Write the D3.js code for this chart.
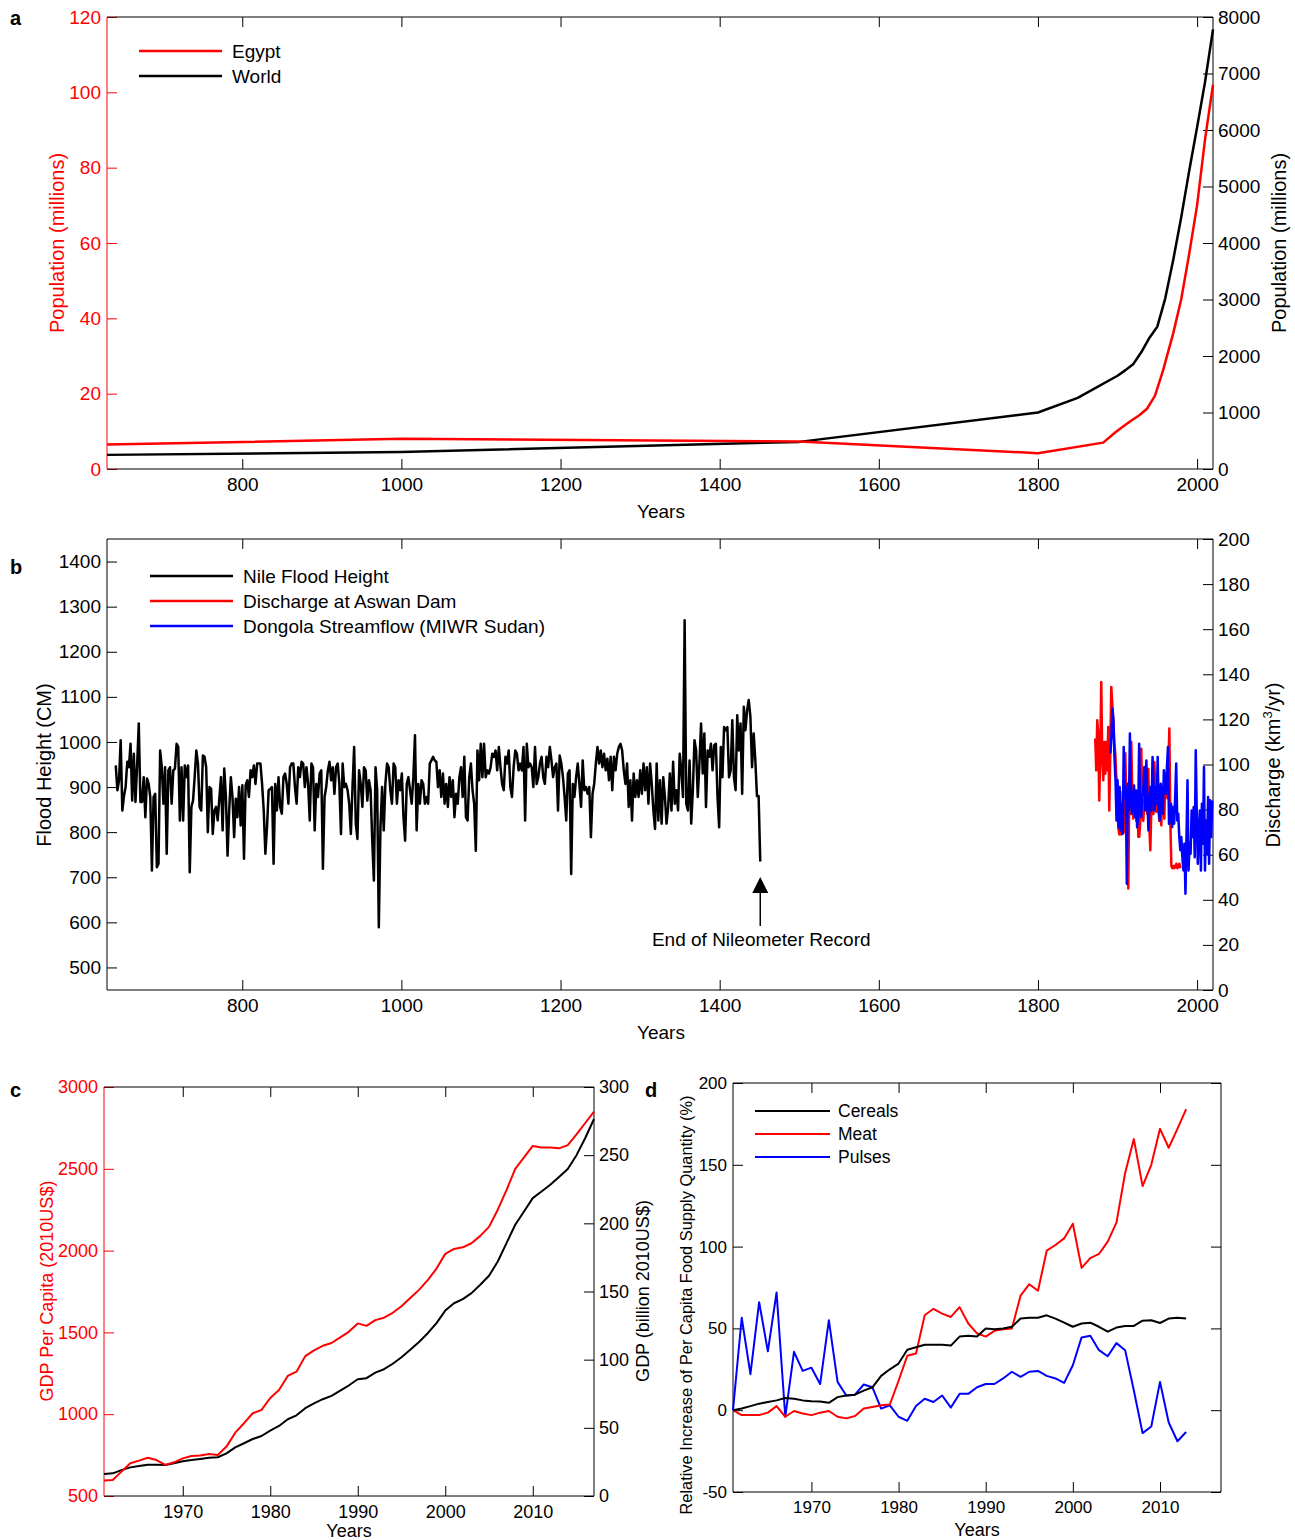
<!DOCTYPE html>
<html><head><meta charset="utf-8">
<script src="https://cdn.jsdelivr.net/npm/d3@7"></script>
<style>body{margin:0;background:#fff}</style>
</head><body>
<svg id="chart" width="1295" height="1540" xmlns="http://www.w3.org/2000/svg"></svg>
<script>
// ---------------- DATA ----------------
// Panel a: population (millions)
const egyptYears = [630,1000,1500,1800,1882,1897,1907,1917,1927,1937,1947,1957,1960,1970,1980,1990,2000,2010,2020];
const egyptPop   = [6.5,8,7.3,4.2,7,9.7,11.3,12.8,14.2,16,19.4,26,28.3,36,45,57,70,87.5,102];
const worldYears = [630,1000,1500,1800,1850,1900,1910,1920,1930,1940,1950,1960,1970,1980,1990,2000,2010,2020];
const worldPop   = [250,300,480,1000,1260,1650,1750,1860,2070,2320,2520,3020,3700,4450,5270,6050,6850,7780];

// Panel b: Nile flood height (cm), evenly spaced readings from floodStart to floodEnd
const floodStart = 641, floodEnd = 1451;
const floodHeight = [
948,893,915,1004,848,880,900,956,944,996,870,974,867,948,1041,867,867,922,833,919,907,878,715,878,885,722,730,981,944,863,944,752,937,944,863,937,941,996,989,826,944,826,948,922,948,711,856,870,922,981,952,856,848,970,967,944,800,900,896,796,848,856,826,874,922,804,941,878,748,848,922,878,789,874,833,900,815,904,741,904,915,878,937,922,948,907,952,952,952,907,848,752,811,893,896,
900,730,907,848,922,856,841,922,930,907,863,944,952,952,900,863,944,922,956,952,900,944,907,826,952,944,804,907,878,930,937,719,878,900,937,956,915,944,885,944,952,907,796,952,900,907,893,863,796,900,989,819,785,937,907,856,944,937,870,915,893,781,693,944,893,589,811,900,804,907,952,944,893,863,952,944,863,915,893,930,833,781,907,922,893,863,922,1015,804,907,863,915,907,863,878,863,952,959,967,959,
956,900,937,878,930,863,907,856,922,878,915,833,885,863,922,944,878,967,833,826,922,952,893,863,759,981,915,996,922,996,922,937,930,944,974,967,981,937,989,944,907,893,967,952,981,900,878,944,981,974,937,952,937,989,826,996,944,952,944,900,989,907,922,952,967,922,907,967,944,989,959,922,944,952,848,970,952,922,878,826,930,937,707,907,878,922,952,907,856,959,893,900,885,900,789,885,907,952,989,952,
981,944,974,937,963,915,967,893,967,937,974,989,996,981,937,907,952,856,915,826,930,878,915,878,937,885,952,893,944,863,952,907,848,807,952,826,915,819,922,878,819,856,930,848,956,863,893,848,974,937,878,1270,863,848,959,819,893,1004,981,878,952,1041,930,1019,856,981,967,996,937,993,996,878,811,989,922,1033,1026,1033,922,937,1048,922,893,1059,981,1041,885,1078,1026,1070,1093,1056,944,1019,959,880,880,735
];

// Discharge at Aswan Dam (km3/yr), evenly spaced readings
const aswanStart = 1872, aswanEnd = 1979;
const aswanDischarge = [
111.5,97.4,119.6,113.7,84,104.8,136.6,103.3,93,110,
95.9,110,97.4,116.6,79.6,104.8,134.4,127,119.6,110,
104.8,95,90,72,69,88,69,82,78,70,
105,84,88,45,88,78,110,86,76,84,
88,75,86,68,68,75,107,78,75,84,
86,97,78,98,72,62,80,88,78,101,
90,79,88,82,75,78,73,90,84,76,
96,88,85,100,116,74,55,54,55,54,
55,56,54,55,56,54];

// Dongola streamflow (km3/yr), evenly spaced readings
const dongolaStart = 1891, dongolaEnd = 2019;
const dongolaFlow = [
104.8,112,124.8,119.6,103.3,93,75.2,93,72.2,90,70.8,82.6,69.3,107.8,85.6,90,47.1,91.5,79.6,113.7,
87,78.2,85.6,90.7,76.7,88.5,72.2,76.7,109.2,79.6,76.7,85.6,88.5,98.9,79.6,101.8,85.6,70.8,82.6,90,
79.6,103.3,91.5,79.6,90,82.6,103.3,79.6,75.2,91.5,85.6,78.2,97.4,90,87,98.9,107.8,73.7,76.7,82.6,
72.2,81.1,73.7,85.6,100.4,75.2,78.2,67.8,62,67.8,58.9,53,64.9,42.7,67.8,93,53,64.9,60.4,79.6,
67.8,81.1,58.9,106.3,78.2,56,70.8,79.6,53,82.6,64.9,98.9,53,75.2,60.4,85.6,56,84.1,67.8,84.1];

// Panel c: GDP
const gdpYears = [1961,1962,1963,1964,1965,1966,1967,1968,1969,1970,1971,1972,1973,1974,1975,1976,1977,1978,1979,1980,1981,1982,1983,1984,1985,1986,1987,1988,1989,1990,1991,1992,1993,1994,1995,1996,1997,1998,1999,2000,2001,2002,2003,2004,2005,2006,2007,2008,2009,2010,2011,2012,2013,2014,2015,2016,2017];
const gdpPerCapita = [594,598,649,700,716,734,720,690,706,730,745,747,757,751,802,887,945,1006,1026,1099,1148,1234,1260,1355,1390,1418,1435,1470,1505,1555,1540,1575,1590,1620,1660,1710,1760,1820,1890,1980,2010,2020,2045,2090,2145,2250,2370,2500,2570,2640,2630,2630,2625,2645,2710,2780,2850];
const gdpTotal = [16.2,16.6,19,21,22,23,23,22.8,24,25.5,26.4,27.2,28.1,28.4,31.3,35.7,38.7,41.8,44,48,51.4,56.3,59.2,64.4,68,71,73.4,77.3,81.2,85.6,86.4,90.5,93,97,101.8,107.2,113,119.4,126.8,136,141.4,144.4,148.8,154.9,161.5,172,185.5,199,208.7,218.5,223.4,228.3,234,239.8,250,262.6,276.5];

// Panel d: relative increase of per capita food supply (%)
const foodYears = [1961,1962,1963,1964,1965,1966,1967,1968,1969,1970,1971,1972,1973,1974,1975,1976,1977,1978,1979,1980,1981,1982,1983,1984,1985,1986,1987,1988,1989,1990,1991,1992,1993,1994,1995,1996,1997,1998,1999,2000,2001,2002,2003,2004,2005,2006,2007,2008,2009,2010,2011,2012,2013];
const cereals = [0,1,2.5,4,5,6,7.5,7,6,5.5,5.3,4.5,8,9,9.5,12,14,21,25,28.5,37,38.5,40,40,40,39.5,45,45.5,45,50,49.5,50,51,56,56.5,56.5,58,56,53.5,51,53,53.5,51,48,50.5,51.5,51.5,54.7,55,53.3,56,56.5,56];
const meat = [0,-3,-3,-3,-1.5,2.5,-4,-0.5,-2,-3,-1.5,-0.5,-4,-5,-3.5,1,2,3,3.5,18,33.3,34.7,58,62,59,57,63,53,47,45,48.5,49.5,50,70,77,73,97.5,101,105,114,87,93,95.5,103,114.7,145,165.7,137,150,172,160.4,172,184];
const pulses = [0,56.5,22,66,36,72,-4,35.7,24,26,16,55,17.3,9,9.5,15.7,14,1,3,-4,-6.5,2.5,7,5,9,1.6,10,10,14,16,16,19.4,23.5,20.4,23.5,24,21,19.4,16.7,27.5,44.5,45.5,36.7,33,41,36.7,12,-14,-10,17.3,-7.5,-19,-13.3];

// tick values
const ticksXab = [800,1000,1200,1400,1600,1800,2000];
const ticksPopL = [0,20,40,60,80,100,120];
const ticksPopR = [0,1000,2000,3000,4000,5000,6000,7000,8000];
const ticksFlood = [500,600,700,800,900,1000,1100,1200,1300,1400];
const ticksDis = [0,20,40,60,80,100,120,140,160,180,200];
const ticksXcd = [1970,1980,1990,2000,2010];
const ticksGdpPC = [500,1000,1500,2000,2500,3000];
const ticksGdp = [0,50,100,150,200,250,300];
const ticksFood = [-50,0,50,100,150,200];

// ---------------- DRAWING ----------------
const FONT = "'Liberation Sans', Arial, Helvetica, sans-serif";
const RED = "#ff0000", BLUE = "#0000ff", BLACK = "#000000";
const svg = d3.select("#chart");
const fmt = d => String(d);

function clean(sel, color){
  sel.select(".domain").remove();
  sel.selectAll(".tick line").attr("stroke", color).attr("stroke-width", 1);
  sel.selectAll(".tick text").attr("fill", color);
  sel.attr("font-family", FONT);
}

function frame(o){
  const g = svg.append("g");
  const [x0, x1] = o.x.range();
  const y1 = o.yL.range()[0], y0 = o.yL.range()[1];
  const fs = o.fs;
  g.append("g").attr("transform", `translate(0,${y1})`)
    .call(d3.axisBottom(o.x).tickValues(o.xTicks).tickSize(-10).tickPadding(9).tickFormat(fmt))
    .attr("font-size", fs).call(clean, BLACK);
  g.append("g").attr("transform", `translate(0,${y0})`)
    .call(d3.axisTop(o.x).tickValues(o.xTicks).tickSize(-10).tickFormat(""))
    .call(clean, BLACK);
  g.append("g").attr("transform", `translate(${x0},0)`)
    .call(d3.axisLeft(o.yL).tickValues(o.yLTicks).tickSize(-10).tickPadding(6).tickFormat(fmt))
    .attr("font-size", fs).call(clean, o.leftColor);
  const yR = o.yR || o.yL;
  const ra = d3.axisRight(yR).tickValues(o.yRTicks || o.yLTicks).tickSize(-10).tickPadding(5).tickFormat(o.yR ? fmt : () => "");
  g.append("g").attr("transform", `translate(${x1},0)`).call(ra).attr("font-size", fs).call(clean, BLACK);
  // box
  g.append("line").attr("x1", x0).attr("x2", x1).attr("y1", y0).attr("y2", y0).attr("stroke", BLACK);
  g.append("line").attr("x1", x0).attr("x2", x1).attr("y1", y1).attr("y2", y1).attr("stroke", BLACK);
  g.append("line").attr("x1", x1).attr("x2", x1).attr("y1", y0).attr("y2", y1).attr("stroke", BLACK);
  g.append("line").attr("x1", x0).attr("x2", x0).attr("y1", y0).attr("y2", y1).attr("stroke", o.leftColor);
  return g;
}

function text(x, y, s, opt = {}){
  const t = svg.append("text").attr("x", x).attr("y", y).text(s)
    .attr("font-family", FONT).attr("font-size", opt.fs || 19)
    .attr("fill", opt.color || BLACK)
    .attr("text-anchor", opt.anchor || "start");
  if (opt.bold) t.attr("font-weight", "bold");
  return t;
}
function vtext(cx, cy, s, opt = {}){
  return svg.append("text").attr("transform", `translate(${cx},${cy}) rotate(-90)`)
    .attr("dy", "0.35em").attr("text-anchor", "middle")
    .attr("font-family", FONT).attr("font-size", opt.fs || 20)
    .attr("fill", opt.color || BLACK).text(s);
}
function path(data, xs, ys, color, w){
  const line = d3.line().x(d => xs(d[0])).y(d => ys(d[1]));
  svg.append("path").datum(data).attr("d", line).attr("fill", "none")
    .attr("stroke", color).attr("stroke-width", w).attr("stroke-linejoin", "round");
}
function even(start, end, vals){
  const n = vals.length;
  return vals.map((v, i) => [start + i * (end - start) / (n - 1), v]);
}

// ---- Panel a ----
const xA = d3.scaleLinear().domain([630, 2020]).range([107, 1213]);
const yAL = d3.scaleLinear().domain([0, 120]).range([469, 17]);
const yAR = d3.scaleLinear().domain([0, 8000]).range([469, 17]);
frame({x: xA, yL: yAL, yR: yAR, xTicks: ticksXab, yLTicks: ticksPopL, yRTicks: ticksPopR, leftColor: RED, fs: 19});
path(worldYears.map((y, i) => [y, worldPop[i]]), xA, yAR, BLACK, 2.5);
path(egyptYears.map((y, i) => [y, egyptPop[i]]), xA, yAL, RED, 2.5);
text(10, 25, "a", {fs: 20, bold: true});
vtext(57, 243, "Population (millions)", {color: RED});
vtext(1279, 243, "Population (millions)");
text(661, 518, "Years", {anchor: "middle"});
[[RED, "Egypt", 51], [BLACK, "World", 76]].forEach(([c, s, y]) => {
  svg.append("line").attr("x1", 139).attr("x2", 222).attr("y1", y).attr("y2", y).attr("stroke", c).attr("stroke-width", 2.5);
  text(232, y + 7, s);
});

// ---- Panel b ----
const xB = d3.scaleLinear().domain([630, 2020]).range([107, 1213]);
const yBL = d3.scaleLinear().domain([450, 1450]).range([990, 539]);
const yBR = d3.scaleLinear().domain([0, 200]).range([990, 539]);
frame({x: xB, yL: yBL, yR: yBR, xTicks: ticksXab, yLTicks: ticksFlood, yRTicks: ticksDis, leftColor: BLACK, fs: 19});
path(even(floodStart, floodEnd, floodHeight), xB, yBL, BLACK, 2.5);
path(even(aswanStart, aswanEnd, aswanDischarge), xB, yBR, RED, 2.5);
path(even(dongolaStart, dongolaEnd, dongolaFlow), xB, yBR, BLUE, 2.5);
text(10, 574, "b", {fs: 20, bold: true});
vtext(44, 765, "Flood Height (CM)");
const dl = svg.append("text").attr("transform", "translate(1273,765) rotate(-90)")
  .attr("dy", "0.35em").attr("text-anchor", "middle").attr("font-family", FONT).attr("font-size", 20);
dl.append("tspan").text("Discharge (km");
dl.append("tspan").text("3").attr("font-size", 13).attr("dy", "-0.6em");
dl.append("tspan").text("/yr)").attr("dy", "0.4em");
text(661, 1039, "Years", {anchor: "middle"});
[[BLACK, "Nile Flood Height", 576], [RED, "Discharge at Aswan Dam", 601], [BLUE, "Dongola Streamflow (MIWR Sudan)", 626]].forEach(([c, s, y]) => {
  svg.append("line").attr("x1", 150).attr("x2", 233).attr("y1", y).attr("y2", y).attr("stroke", c).attr("stroke-width", 2.5);
  text(243, y + 7, s);
});
// annotation
const ax = xB(floodEnd);
svg.append("line").attr("x1", ax).attr("x2", ax).attr("y1", 892).attr("y2", 926).attr("stroke", BLACK).attr("stroke-width", 1.5);
svg.append("path").attr("d", `M${ax},877 L${ax - 8},893 L${ax + 8},893 Z`).attr("fill", BLACK);
text(ax + 1, 946, "End of Nileometer Record", {anchor: "middle"});

// ---- Panel c ----
const xC = d3.scaleLinear().domain([1961, 2017]).range([104, 594]);
const yCL = d3.scaleLinear().domain([500, 3000]).range([1496, 1087]);
const yCR = d3.scaleLinear().domain([0, 300]).range([1496, 1087]);
frame({x: xC, yL: yCL, yR: yCR, xTicks: ticksXcd, yLTicks: ticksGdpPC, yRTicks: ticksGdp, leftColor: RED, fs: 18});
path(gdpYears.map((y, i) => [y, gdpTotal[i]]), xC, yCR, BLACK, 2);
path(gdpYears.map((y, i) => [y, gdpPerCapita[i]]), xC, yCL, RED, 2);
text(10, 1097, "c", {fs: 20, bold: true});
vtext(47, 1291, "GDP Per Capita (2010US$)", {color: RED, fs: 18});
vtext(643, 1291, "GDP (billion 2010US$)", {fs: 18});
text(349, 1537, "Years", {anchor: "middle", fs: 18});

// ---- Panel d ----
const xD = d3.scaleLinear().domain([1961, 2017]).range([733, 1221]);
const yD = d3.scaleLinear().domain([-50, 200]).range([1492, 1083]);
frame({x: xD, yL: yD, xTicks: ticksXcd, yLTicks: ticksFood, leftColor: BLACK, fs: 17});
path(foodYears.map((y, i) => [y, pulses[i]]), xD, yD, BLUE, 2);
path(foodYears.map((y, i) => [y, meat[i]]), xD, yD, RED, 2);
path(foodYears.map((y, i) => [y, cereals[i]]), xD, yD, BLACK, 2);
text(645, 1097, "d", {fs: 20, bold: true});
vtext(686, 1305, "Relative Increase of Per Capita Food Supply Quantity (%)", {fs: 16.4});
text(977, 1536, "Years", {anchor: "middle", fs: 18});
[[BLACK, "Cereals", 1111], [RED, "Meat", 1134], [BLUE, "Pulses", 1157]].forEach(([c, s, y]) => {
  svg.append("line").attr("x1", 755).attr("x2", 830).attr("y1", y).attr("y2", y).attr("stroke", c).attr("stroke-width", 2);
  text(838, y + 6, s, {fs: 17.5});
});
</script>
</body></html>
